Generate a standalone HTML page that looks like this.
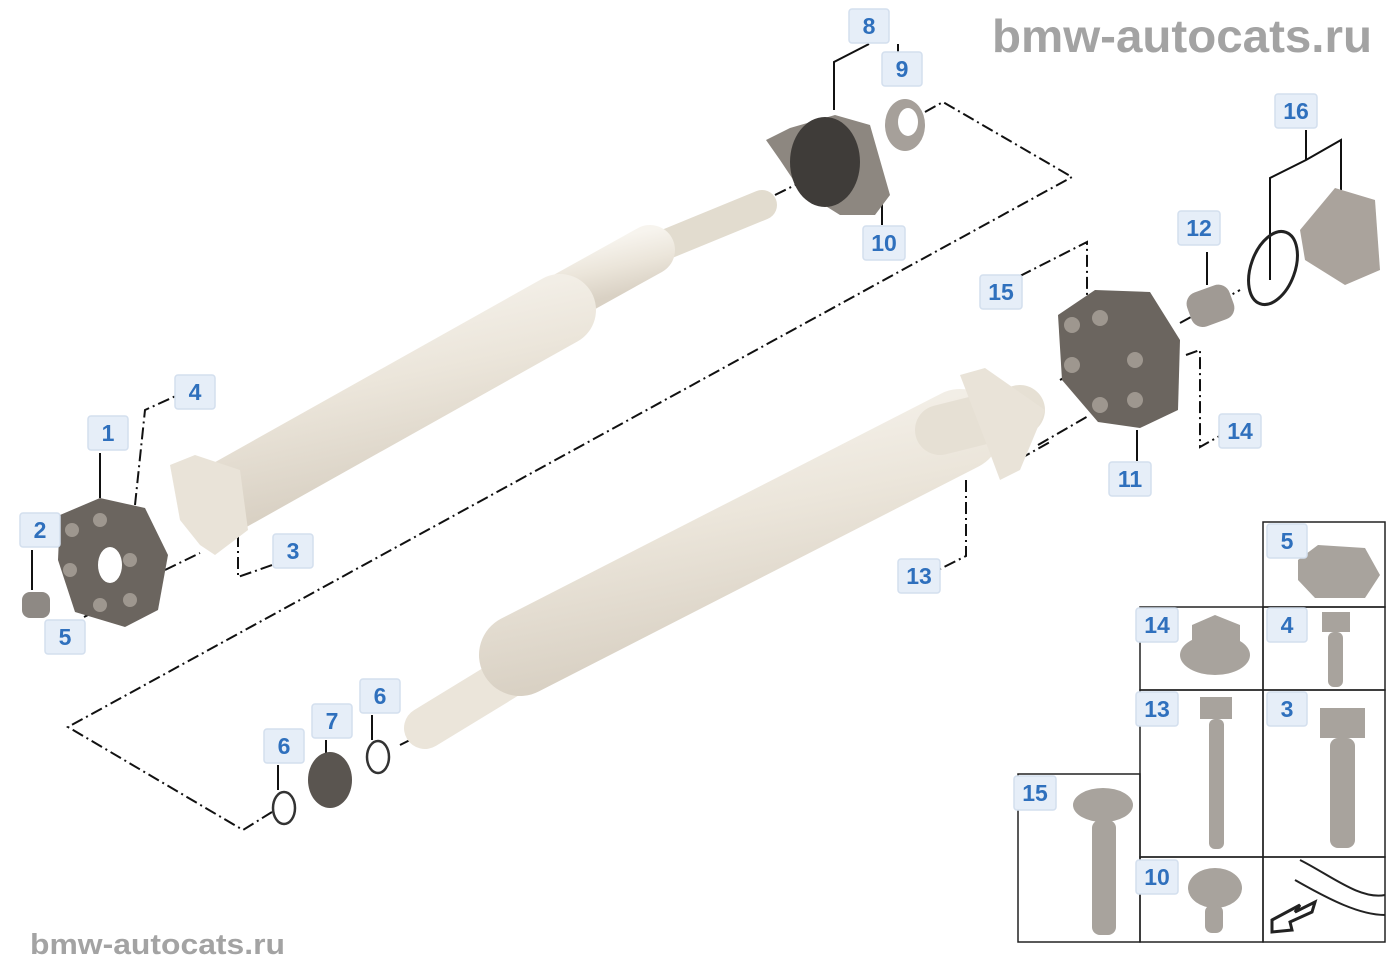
<!DOCTYPE html>
<html><head><meta charset="utf-8"><style>
body{margin:0;background:#fff;}
svg{display:block}
.lb rect{fill:#e6eef8;stroke:#d3dfee;stroke-width:1.5}
.lb text{font-family:"Liberation Sans",sans-serif;font-weight:bold;font-size:23px;fill:#2f70bd;text-anchor:middle}
.wm{font-family:"Liberation Sans",sans-serif;font-weight:bold;fill:#a3a3a3}
</style></head><body>
<svg width="1400" height="980" viewBox="0 0 1400 980" xmlns="http://www.w3.org/2000/svg">
<defs>
<linearGradient id="sh" x1="0" y1="0" x2="0.4" y2="1"><stop offset="0" stop-color="#f7f4ee"/><stop offset="0.5" stop-color="#ebe5da"/><stop offset="1" stop-color="#d9d1c4"/></linearGradient>
</defs>
<text class="wm" x="992" y="52" font-size="46" textLength="380" lengthAdjust="spacingAndGlyphs">bmw-autocats.ru</text>
<text class="wm" x="30" y="954" font-size="29" fill="#777" textLength="255" lengthAdjust="spacingAndGlyphs">bmw-autocats.ru</text>

<g fill="none" stroke="#111" stroke-width="2" stroke-dasharray="12,4,2,4">
<polyline points="925,112 943,102 1072,177 68,727 243,830 272,812"/>
<polyline points="135,505 145,410 178,395"/>
<polyline points="238,535 238,577 278,563"/>
<polyline points="165,570 200,553"/>
<polyline points="84,617 110,604"/>
<polyline points="1020,276 1087,242 1087,320"/>
<polyline points="1186,355 1200,350 1200,447 1225,433"/>
<polyline points="1038,445 1090,415"/>
<polyline points="966,480 966,556 934,572"/>
<polyline points="1000,470 1050,442"/>
<polyline points="1060,380 1110,352"/>
<polyline points="1180,323 1240,290"/>
<polyline points="400,745 420,735"/>
<polyline points="775,195 850,158"/>
</g>
<g fill="none" stroke="#111" stroke-width="2">
<polyline points="834,110 834,62 869,44"/><line x1="898" y1="44" x2="898" y2="52"/>
<polyline points="1270,280 1270,178 1306,160 1341,140 1341,190"/><line x1="1306" y1="130" x2="1306" y2="160"/>
<line x1="100" y1="453" x2="100" y2="498"/><line x1="32" y1="550" x2="32" y2="590"/>
<line x1="1207" y1="252" x2="1207" y2="285"/><line x1="1137" y1="430" x2="1137" y2="461"/>
<line x1="882" y1="185" x2="882" y2="225"/>
<line x1="278" y1="765" x2="278" y2="790"/><line x1="326" y1="740" x2="326" y2="755"/><line x1="372" y1="715" x2="372" y2="740"/>
</g>

<g stroke-linecap="round" fill="none">
<line x1="640" y1="255" x2="762" y2="205" stroke="#e2dccf" stroke-width="30"/>
<line x1="560" y1="300" x2="650" y2="250" stroke="url(#sh)" stroke-width="50"/>
<line x1="230" y1="495" x2="560" y2="310" stroke="url(#sh)" stroke-width="72"/>
</g>
<path d="M170,465 L195,455 L240,470 L248,530 L215,555 L200,545 L180,520 Z" fill="#e9e3d8"/>
<g stroke-linecap="round" fill="none">
<line x1="425" y1="728" x2="520" y2="670" stroke="#ebe5da" stroke-width="42"/>
<line x1="520" y1="655" x2="960" y2="430" stroke="url(#sh)" stroke-width="82"/>
<line x1="940" y1="430" x2="1020" y2="410" stroke="#e6e0d4" stroke-width="50"/>
</g>
<path d="M960,375 L985,368 L1045,410 L1020,470 L1000,480 L985,440 Z" fill="#e9e3d8"/>

<path d="M60,515 L100,498 L145,508 L168,555 L158,610 L125,627 L75,612 L58,560 Z" fill="#6b655f"/>
<g fill="#9e978f"><circle cx="72" cy="530" r="7"/><circle cx="100" cy="520" r="7"/><circle cx="70" cy="570" r="7"/><circle cx="130" cy="560" r="7"/><circle cx="100" cy="605" r="7"/><circle cx="130" cy="600" r="7"/></g>
<ellipse cx="110" cy="565" rx="12" ry="18" fill="#fff"/>
<rect x="22" y="592" width="28" height="26" rx="8" fill="#8e8984"/>
<path d="M1058,315 L1095,290 L1150,292 L1180,340 L1178,410 L1140,428 L1098,422 L1062,380 Z" fill="#6b655f"/>
<g fill="#9e978f"><circle cx="1072" cy="325" r="8"/><circle cx="1100" cy="318" r="8"/><circle cx="1072" cy="365" r="8"/><circle cx="1135" cy="360" r="8"/><circle cx="1100" cy="405" r="8"/><circle cx="1135" cy="400" r="8"/></g>
<path d="M766,140 L790,128 L835,115 L870,125 L890,195 L875,215 L840,215 L800,190 L780,160 Z" fill="#8d8780"/>
<ellipse cx="825" cy="162" rx="35" ry="45" fill="#3f3c39"/>
<ellipse cx="905" cy="125" rx="20" ry="26" fill="#a6a09a"/><ellipse cx="908" cy="122" rx="10" ry="14" fill="#fff"/>
<rect x="1188" y="288" width="45" height="36" rx="12" fill="#a09a94" transform="rotate(-20 1210 306)"/>
<ellipse cx="1273" cy="268" rx="22" ry="38" fill="none" stroke="#222" stroke-width="3" transform="rotate(20 1273 268)"/>
<path d="M1300,230 L1335,188 L1375,200 L1380,270 L1345,285 L1305,260 Z" fill="#aaa39c"/>
<ellipse cx="284" cy="808" rx="11" ry="16" fill="none" stroke="#333" stroke-width="2.5"/>
<ellipse cx="330" cy="780" rx="22" ry="28" fill="#5a5550"/>
<ellipse cx="378" cy="757" rx="11" ry="16" fill="none" stroke="#333" stroke-width="2.5"/>

<g fill="none" stroke="#222" stroke-width="1.5">
<rect x="1263" y="522" width="122" height="85"/>
<rect x="1140" y="607" width="123" height="83"/><rect x="1263" y="607" width="122" height="83"/>
<rect x="1140" y="690" width="123" height="167"/><rect x="1263" y="690" width="122" height="167"/>
<rect x="1140" y="857" width="123" height="85"/><rect x="1263" y="857" width="122" height="85"/>
<rect x="1018" y="774" width="122" height="168"/>
</g>
<g fill="#a8a39d">
<path d="M1298,560 L1318,545 L1365,548 L1380,575 L1365,598 L1315,598 L1298,580Z"/>
<ellipse cx="1215" cy="655" rx="35" ry="20"/><path d="M1192,625 L1215,615 L1240,625 L1240,660 L1192,660Z"/>
<rect x="1322" y="612" width="28" height="20"/><rect x="1328" y="632" width="15" height="55" rx="6"/>
<rect x="1200" y="697" width="32" height="22"/><rect x="1209" y="719" width="15" height="130" rx="6"/>
<rect x="1320" y="708" width="45" height="30"/><rect x="1330" y="738" width="25" height="110" rx="8"/>
<ellipse cx="1103" cy="805" rx="30" ry="17"/><rect x="1092" y="820" width="24" height="115" rx="8"/>
<ellipse cx="1215" cy="888" rx="27" ry="20"/><rect x="1205" y="905" width="18" height="28" rx="7"/>
</g>
<g fill="none" stroke="#222" stroke-width="2"><path d="M1300,860 C1330,875 1360,900 1385,895 M1295,880 C1330,900 1360,915 1385,915"/><path d="M1272,920 L1300,905 L1295,912 L1315,902 L1312,912 L1290,922 L1292,930 L1272,932Z" fill="#fff" stroke-width="3"/></g>

<g class="lb">
<g transform="translate(869,26)"><rect x="-20" y="-17" width="40" height="34" rx="3"/><text y="8">8</text></g>
<g transform="translate(902,69)"><rect x="-20" y="-17" width="40" height="34" rx="3"/><text y="8">9</text></g>
<g transform="translate(1296,111)"><rect x="-21" y="-17" width="42" height="34" rx="3"/><text y="8">16</text></g>
<g transform="translate(1199,228)"><rect x="-21" y="-17" width="42" height="34" rx="3"/><text y="8">12</text></g>
<g transform="translate(884,243)"><rect x="-21" y="-17" width="42" height="34" rx="3"/><text y="8">10</text></g>
<g transform="translate(1001,292)"><rect x="-21" y="-17" width="42" height="34" rx="3"/><text y="8">15</text></g>
<g transform="translate(195,392)"><rect x="-20" y="-17" width="40" height="34" rx="3"/><text y="8">4</text></g>
<g transform="translate(108,433)"><rect x="-20" y="-17" width="40" height="34" rx="3"/><text y="8">1</text></g>
<g transform="translate(40,530)"><rect x="-20" y="-17" width="40" height="34" rx="3"/><text y="8">2</text></g>
<g transform="translate(293,551)"><rect x="-20" y="-17" width="40" height="34" rx="3"/><text y="8">3</text></g>
<g transform="translate(65,637)"><rect x="-20" y="-17" width="40" height="34" rx="3"/><text y="8">5</text></g>
<g transform="translate(1240,431)"><rect x="-21" y="-17" width="42" height="34" rx="3"/><text y="8">14</text></g>
<g transform="translate(1130,479)"><rect x="-21" y="-17" width="42" height="34" rx="3"/><text y="8">11</text></g>
<g transform="translate(919,576)"><rect x="-21" y="-17" width="42" height="34" rx="3"/><text y="8">13</text></g>
<g transform="translate(380,696)"><rect x="-20" y="-17" width="40" height="34" rx="3"/><text y="8">6</text></g>
<g transform="translate(332,721)"><rect x="-20" y="-17" width="40" height="34" rx="3"/><text y="8">7</text></g>
<g transform="translate(284,746)"><rect x="-20" y="-17" width="40" height="34" rx="3"/><text y="8">6</text></g>
<g transform="translate(1287,541)"><rect x="-20" y="-17" width="40" height="34" rx="3"/><text y="8">5</text></g>
<g transform="translate(1157,625)"><rect x="-21" y="-17" width="42" height="34" rx="3"/><text y="8">14</text></g>
<g transform="translate(1287,625)"><rect x="-20" y="-17" width="40" height="34" rx="3"/><text y="8">4</text></g>
<g transform="translate(1157,709)"><rect x="-21" y="-17" width="42" height="34" rx="3"/><text y="8">13</text></g>
<g transform="translate(1287,709)"><rect x="-20" y="-17" width="40" height="34" rx="3"/><text y="8">3</text></g>
<g transform="translate(1035,793)"><rect x="-21" y="-17" width="42" height="34" rx="3"/><text y="8">15</text></g>
<g transform="translate(1157,877)"><rect x="-21" y="-17" width="42" height="34" rx="3"/><text y="8">10</text></g>
</g>
</svg>
</body></html>
